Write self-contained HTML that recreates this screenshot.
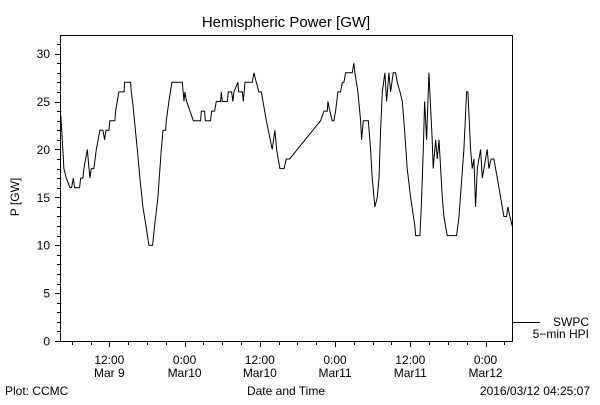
<!DOCTYPE html>
<html><head><meta charset="utf-8"><style>
body{margin:0;background:#fff}
svg text{font-family:"Liberation Sans",sans-serif;fill:#000}
</style></head><body>
<svg id="chart" width="600" height="400" viewBox="0 0 600 400" xmlns="http://www.w3.org/2000/svg">
<rect width="600" height="400" fill="#fff"/>
<text x="286" y="27" font-size="15" text-anchor="middle">Hemispheric Power [GW]</text>
<rect x="60.5" y="35.5" width="452" height="306" fill="none" stroke="#000" stroke-width="1"/>
<g id="yaxis"></g>
<g id="xaxis"></g>
<text transform="translate(19,197) rotate(-90)" font-size="12" text-anchor="middle">P [GW]</text>
<text x="286" y="395" font-size="12" text-anchor="middle">Date and Time</text>
<text x="5" y="395" font-size="12">Plot: CCMC</text>
<text x="590" y="395" font-size="12" text-anchor="end">2016/03/12 04:25:07</text>
<g>
<line x1="512" y1="322.5" x2="540" y2="322.5" stroke="#000"/>
<text x="589" y="326" font-size="12" text-anchor="end">SWPC</text>
<text x="589" y="338" font-size="12" text-anchor="end">5−min HPI</text>
</g>
<path id="series" fill="none" stroke="#000" stroke-width="1"/>
</svg>
<script>
// hours since Mar 9 00:00
const hours=[4.28,4.76,5.13,5.72,5.98,6.25,6.46,7.26,7.42,7.79,7.95,8.48,8.90,9.12,9.54,9.92,10.50,10.98,11.24,11.46,11.93,12.09,12.89,13.0,13.53,14.33,14.43,15.39,15.50,15.71,16.46,16.88,17.36,17.84,18.31,18.90,19.22,19.75,20.28,20.55,20.97,21.08,21.50,21.98,23.63,23.90,24.05,24.32,24.86,25.39,26.55,26.66,27.19,27.30,28.15,28.31,28.79,29.06,29.75,29.85,30.01,30.81,30.97,31.50,31.71,31.87,32.51,32.62,33.20,33.36,33.63,34.80,35.06,35.44,35.86,36.23,36.50,37.03,37.35,37.98,38.41,38.68,39.21,39.85,40.22,40.75,45.69,46.23,46.76,46.86,47.18,47.55,47.82,48.08,48.46,48.88,49.15,49.41,49.68,50.74,51.01,51.17,51.65,52.07,52.23,52.50,53.30,53.67,53.93,54.36,54.73,55.0,55.26,55.53,55.95,56.22,56.59,56.86,57.28,57.65,57.92,58.35,58.72,59.09,59.51,60.05,60.74,60.84,61.53,61.75,62.07,62.28,62.60,62.97,63.50,63.66,64.04,64.30,64.57,65.10,65.36,65.89,67.38,67.76,68.55,68.98,69.19,69.62,69.88,70.15,70.41,70.68,71.21,71.48,72.27,72.54,72.91,73.34,73.87,74.40,74.93,75.36,75.57,75.89,76.26];
const power=[23.5,18,17,16,16,17,16,16,17,17,18,20,17,18,18,20,22,22,21,22,22,23,23,24,26,26,27,27,26,25,20,17,14,12,10,10,12,15,20,22,22,23,25,27,27,25,26,25,24,23,23,24,24,23,23,24,24,25,25,26,25,25,26,26,25,26,27,26,26,25,27,27,28,27,26,26,25,23,22,20,22,20,18,18,19,19,23,24,24,25,24,23,23,24,26,26,27,27,28,28,29,28,26,23,21,23,23,20,17,14,15,17,22,26,28,25,28,26,28,28,27,26,25,22,18,15,12,11,11,14,20,25,21,28,21,18,21,19,21,15,13,11,11,13,20,26,26,20,18,19,14,18,20,17,20,18,19,19,17,15,13,13,14,13,12];
const yTicks=[0,5,10,15,20,25,30];
const xTickHours=[12,24,36,48,60,72];
const xTickLine1=["12:00","0:00","12:00","0:00","12:00","0:00"];
const xTickLine2=["Mar 9","Mar10","Mar10","Mar11","Mar11","Mar12"];

const NS="http://www.w3.org/2000/svg";
const X0=60.5,X1=512.5,HMIN=4.21,HMAX=76.3;
const x=h=>X0+(h-HMIN)/(HMAX-HMIN)*(X1-X0);
const y=v=>341-v*9.58;
function mk(tag,attrs,parent){const e=document.createElementNS(NS,tag);for(const k in attrs)e.setAttribute(k,attrs[k]);parent.appendChild(e);return e;}
const ya=document.getElementById('yaxis'),xa=document.getElementById('xaxis');
for(let v=0;v<=31;v++){
  const yy=Math.round(y(v))+0.5;const major=v%5===0;
  const t=mk('line',{x1:major?55:57,y1:yy,x2:60.5,y2:yy,stroke:'#000'},ya);
  
  
}
yTicks.forEach(v=>{
  const t=mk('text',{x:50,y:y(v)+4.5,'font-size':12,'text-anchor':'end'},ya);
  t.textContent=v;
  
  
});
for(let h=6;h<=HMAX;h+=3){
  const xx=Math.round(x(h))+0.5;const major=h%12===0;
  const t=mk('line',{x1:xx,y1:341.5,x2:xx,y2:major?347:345},xa);
  t.setAttribute('stroke','#000');
  
  
}
xTickHours.forEach((h,i)=>{
  const a=mk('text',{x:x(h),y:364,'font-size':12,'text-anchor':'middle'},xa);
  a.textContent=xTickLine1[i];
  
  
  const b=mk('text',{x:x(h),y:377,'font-size':12,'text-anchor':'middle'},xa);
  b.textContent=xTickLine2[i];
  
  
});
document.getElementById('series').setAttribute('d',hours.map((h,i)=>(i?'L':'M')+x(h).toFixed(1)+' '+y(power[i]).toFixed(1)).join(' '));
</script>
</body></html>
